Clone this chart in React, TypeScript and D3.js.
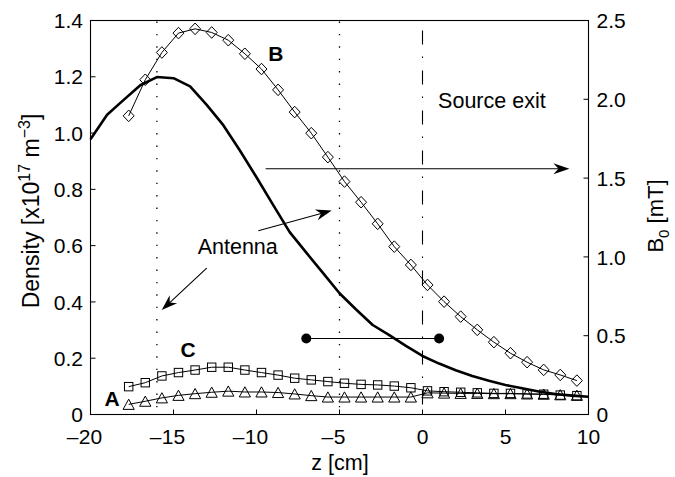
import React from "react";
import * as d3 from "d3";

const W = 675;
const H = 477;
const PL = 90.5, PR = 588.5, PT = 20.5, PB = 414.5;

// marker series positions (cm)
const zMarkers = [-17.7, -16.7, -15.7, -14.7, -13.7, -12.7, -11.7, -10.7, -9.7, -8.7, -7.7, -6.7, -5.7, -4.7, -3.7, -2.7, -1.7, -0.7, 0.3, 1.3, 2.3, 3.3, 4.3, 5.3, 6.3, 7.3, 8.3, 9.3];
// B0 [mT] (right axis) - diamonds, curve B
const bField = [1.895, 2.124, 2.297, 2.42, 2.447, 2.424, 2.375, 2.289, 2.192, 2.06, 1.919, 1.785, 1.633, 1.478, 1.347, 1.21, 1.065, 0.949, 0.822, 0.716, 0.621, 0.537, 0.459, 0.389, 0.332, 0.283, 0.251, 0.215];
// density curve C - squares
const densityC = [0.099, 0.113, 0.137, 0.149, 0.158, 0.168, 0.168, 0.158, 0.149, 0.14, 0.129, 0.123, 0.117, 0.111, 0.107, 0.105, 0.101, 0.095, 0.084, 0.081, 0.079, 0.077, 0.075, 0.075, 0.073, 0.072, 0.069, 0.067];
// density curve A - triangles
const densityA = [0.036, 0.047, 0.059, 0.068, 0.074, 0.079, 0.083, 0.08, 0.08, 0.078, 0.073, 0.067, 0.062, 0.062, 0.062, 0.062, 0.062, 0.062, 0.077, 0.076, 0.075, 0.075, 0.074, 0.074, 0.073, 0.072, 0.07, 0.068];
// thick density line
const zLine = [-20, -19, -18, -17, -16, -15, -14, -13, -12, -11, -10, -9, -8, -7, -6, -5, -4, -3, -2, -1, 0, 1, 2, 3, 4, 5, 6, 7, 8, 9, 10];
const densityLine = [0.978, 1.065, 1.118, 1.17, 1.199, 1.195, 1.166, 1.1, 1.028, 0.938, 0.843, 0.745, 0.648, 0.575, 0.503, 0.431, 0.373, 0.318, 0.282, 0.244, 0.208, 0.181, 0.157, 0.137, 0.12, 0.105, 0.093, 0.082, 0.073, 0.067, 0.063];
// segment with filled dots
const segZ = [-7, 1];
const segDensity = 0.27;
// vertical reference lines
const dottedZ = [-16, -5];
const exitZ = 0;

const xTicks = [-20, -15, -10, -5, 0, 5, 10];
const yLeftTicks = [0, 0.2, 0.4, 0.6, 0.8, 1.0, 1.2, 1.4];
const yLeftLabels = ["0", "0.2", "0.4", "0.6", "0.8", "1.0", "1.2", "1.4"];
const yRightTicks = [0, 0.5, 1.0, 1.5, 2.0, 2.5];
const yRightLabels = ["0", "0.5", "1.0", "1.5", "2.0", "2.5"];

// annotation arrows in data coords [z0, d0, z1, d1]
const arrows = [
  [-9.45, 0.873, 8.85, 0.873],
  [-9.89, 0.653, -5.47, 0.7245],
  [-13.0, 0.52, -15.71, 0.371],
];

const FONT = "'Liberation Sans', Arial, Helvetica, sans-serif";

export default function App() {
  const x = d3.scaleLinear().domain([-20, 10]).range([PL, PR]);
  const yL = d3.scaleLinear().domain([0, 1.4]).range([PB, PT]);
  const yR = d3.scaleLinear().domain([0, 2.5]).range([PB, PT]);

  const thick = d3.line<number>().x((_, i) => x(zLine[i])).y((d) => yL(d))(densityLine) || "";
  const lineB = d3.line<number>().x((_, i) => x(zMarkers[i])).y((d) => yR(d))(bField) || "";
  const lineC = d3.line<number>().x((_, i) => x(zMarkers[i])).y((d) => yL(d))(densityC) || "";
  const lineA = d3.line<number>().x((_, i) => x(zMarkers[i])).y((d) => yL(d))(densityA) || "";

  const fs = 21;
  const digitW = 0.556 * fs;

  const arrowEls = arrows.map((a, i) => {
    const x0 = x(a[0]), y0 = yL(a[1]), x1 = x(a[2]), y1 = yL(a[3]);
    const dx = x1 - x0, dy = y1 - y0;
    const len = Math.hypot(dx, dy);
    const ux = dx / len, uy = dy / len;
    const nx = -uy, ny = ux;
    const L = 16, w = 5.5, notch = 11;
    const p = [
      [x1, y1],
      [x1 - L * ux + w * nx, y1 - L * uy + w * ny],
      [x1 - notch * ux, y1 - notch * uy],
      [x1 - L * ux - w * nx, y1 - L * uy - w * ny],
    ];
    return (
      <g key={"ar" + i}>
        <line x1={x0} y1={y0} x2={x1 - notch * ux} y2={y1 - notch * uy} stroke="#000" strokeWidth={1.1} />
        <path d={"M" + p.map((q) => q.join(",")).join("L") + "Z"} fill="#000" />
      </g>
    );
  });

  return (
    <svg width={W} height={H} style={{ position: "absolute", left: 0, top: 0, background: "#fff" }} fontFamily={FONT}>
      <rect x={0} y={0} width={W} height={H} fill="#fff" />
      {/* reference lines */}
      {dottedZ.map((z) => (
        <line key={"dz" + z} x1={x(z)} x2={x(z)} y1={PT + 1} y2={PB} stroke="#000" strokeWidth={1.3} strokeDasharray="1.4 11" />
      ))}
      <line x1={x(exitZ)} x2={x(exitZ)} y1={PT + 10} y2={PB} stroke="#000" strokeWidth={1.1} strokeDasharray="14 12 1.5 12.5" />

      {/* thick density line */}
      <path d={thick} fill="none" stroke="#000" strokeWidth={2.6} strokeLinejoin="round" />

      {/* B diamonds */}
      <path d={lineB} fill="none" stroke="#000" strokeWidth={1} />
      {bField.map((b, i) => {
        const cx = x(zMarkers[i]), cy = yR(b);
        return <path key={"dm" + i} d={`M${cx},${cy - 5.8}L${cx + 5.5},${cy}L${cx},${cy + 5.8}L${cx - 5.5},${cy}Z`} fill="none" stroke="#000" strokeWidth={1} />;
      })}

      {/* C squares */}
      <path d={lineC} fill="none" stroke="#000" strokeWidth={1} />
      {densityC.map((d, i) => (
        <rect key={"sq" + i} x={x(zMarkers[i]) - 4.2} y={yL(d) - 4.2} width={8.4} height={8.4} fill="none" stroke="#000" strokeWidth={1} />
      ))}

      {/* A triangles */}
      <path d={lineA} fill="none" stroke="#000" strokeWidth={1} />
      {densityA.map((d, i) => {
        const cx = x(zMarkers[i]), cy = yL(d);
        return <path key={"tr" + i} d={`M${cx},${cy - 5.2}L${cx + 5.6},${cy + 5}L${cx - 5.6},${cy + 5}Z`} fill="none" stroke="#000" strokeWidth={1} />;
      })}

      {/* segment with dots */}
      <line x1={x(segZ[0])} x2={x(segZ[1])} y1={yL(segDensity)} y2={yL(segDensity)} stroke="#000" strokeWidth={1.1} />
      {segZ.map((z) => (
        <circle key={"sd" + z} cx={x(z)} cy={yL(segDensity)} r={5} fill="#000" />
      ))}

      {arrowEls}

      {/* annotations */}
      <text x={x(-9.29)} y={yL(1.257)} fontSize={21} fontWeight="bold">B</text>
      <text x={x(-14.58)} y={yL(0.204)} fontSize={21} fontWeight="bold">C</text>
      <text x={x(-19.15)} y={yL(0.03)} fontSize={21} fontWeight="bold">A</text>
      <text x={x(0.94)} y={yL(1.088)} fontSize={21.5}>Source exit</text>
      <text x={x(-11.13)} y={yL(0.571)} fontSize={21.5} textAnchor="middle">Antenna</text>

      {/* axes box */}
      <rect x={PL} y={PT} width={PR - PL} height={PB - PT} fill="none" stroke="#000" strokeWidth={1.1} />

      {/* x ticks */}
      {xTicks.map((t) => {
        const s = String(Math.abs(t));
        const hw = (s.length * digitW) / 2;
        return (
          <g key={"xt" + t}>
            <line x1={x(t)} x2={x(t)} y1={PB} y2={PB - 5} stroke="#000" strokeWidth={1} />
            <text x={x(t)} y={444} fontSize={fs} textAnchor="middle">{s}</text>
            {t < 0 && (
              <text x={x(t) - hw - 0.5} y={444} fontSize={fs} textAnchor="end">–</text>
            )}
          </g>
        );
      })}
      {/* left ticks */}
      {yLeftTicks.map((t, i) => (
        <g key={"yl" + i}>
          <line x1={PL} x2={PL + 5} y1={yL(t)} y2={yL(t)} stroke="#000" strokeWidth={1} />
          <text x={83} y={yL(t) + 7.6} fontSize={fs} textAnchor="end">{yLeftLabels[i]}</text>
        </g>
      ))}
      {/* right ticks */}
      {yRightTicks.map((t, i) => (
        <g key={"yr" + i}>
          <line x1={PR} x2={PR - 5} y1={yR(t)} y2={yR(t)} stroke="#000" strokeWidth={1} />
          <text x={596.5} y={yR(t) + 7.6} fontSize={fs} textAnchor="start">{yRightLabels[i]}</text>
        </g>
      ))}

      {/* axis labels */}
      <text x={340} y={470} fontSize={21.5} textAnchor="middle">z [cm]</text>
      <text transform="translate(39,211) rotate(-90)" fontSize={23} textAnchor="middle">
        Density [x10<tspan fontSize={16} dy={-9.5}>17</tspan><tspan dy={9.5}> m</tspan><tspan fontSize={16} dy={-9.5}>−3</tspan><tspan dy={9.5}>]</tspan>
      </text>
      <text transform="translate(663,216) rotate(-90)" fontSize={22} textAnchor="middle">
        B<tspan fontSize={15} dy={6}>0</tspan><tspan dy={-6}> [mT]</tspan>
      </text>
    </svg>
  );
}
